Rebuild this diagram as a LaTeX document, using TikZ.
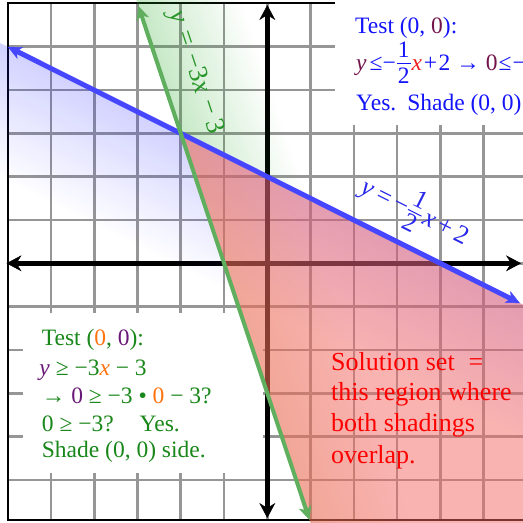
\documentclass[tikz,border=0pt]{standalone}
\usepackage{fontspec}
\setmainfont{Liberation Serif}
\usetikzlibrary{arrows.meta,fadings}
\definecolor{gridgray}{RGB}{150,150,150}
\definecolor{redfill}{RGB}{245,105,100}
\definecolor{fadeblue}{RGB}{30,30,255}
\definecolor{fadegreen}{RGB}{40,170,40}
\definecolor{fadeorange}{RGB}{215,120,50}
\definecolor{bluline}{RGB}{70,70,255}
\definecolor{grnline}{RGB}{95,175,95}
\definecolor{tblue}{RGB}{20,20,250}
\definecolor{tmaroon}{RGB}{115,20,75}
\definecolor{tred}{RGB}{240,30,30}
\definecolor{tgreen}{RGB}{25,135,25}
\definecolor{torange}{RGB}{255,115,15}
\definecolor{tpurple}{RGB}{105,25,120}
\definecolor{solred}{RGB}{255,0,0}
\definecolor{lblgreen}{RGB}{40,150,40}
\definecolor{lblblue}{RGB}{40,40,235}
\tikzfading[name=linefade, top color=transparent!0, bottom color=transparent!100]
\newcommand\stkfrac[2]{%
  \leavevmode\hbox{%
    \setbox0=\hbox{#1}\setbox2=\hbox{#2}%
    \dimen0=\wd0 \ifdim\wd2>\dimen0 \dimen0=\wd2 \fi
    \advance\dimen0 by 2pt%
    \rlap{\raise12.5pt\hbox to\dimen0{\hss\copy0\hss}}%
    \rlap{\raise6.3pt\hbox to\dimen0{\leaders\hrule height 1pt depth 0pt\hfill}}%
    \lower12.8pt\hbox to\dimen0{\hss\copy2\hss}}}
\begin{document}
\begin{tikzpicture}[x=43.25pt, y=43.3pt,
  txt/.style={anchor=base west, inner sep=0pt, font=\fontsize{23.5}{28}\selectfont},
  soltxt/.style={anchor=base west, inner sep=0pt, font=\fontsize{26}{31}\selectfont, text=solred},
  lbl/.style={inner sep=0pt},
  gridline/.style={draw=gridgray, line width=2.6pt},
  frameline/.style={draw=black, line width=2pt},
  axtip/.tip={Stealth[length=15pt,width=16pt,inset=5pt,line width=0.5pt]},
  lntip/.tip={Stealth[length=14pt,width=13pt,inset=4pt,line width=0.5pt]},
  axisline/.style={draw=black, line width=4.5pt, axtip-axtip},
  bluelinestyle/.style={draw=bluline, line width=5pt, lntip-lntip},
  greenlinestyle/.style={draw=grnline, line width=4pt, lntip-lntip},
  whitebox/.style={fill=white, draw=none}]
\useasboundingbox[fill=white] (-6.1803,-5.9746) rectangle (5.9121,6.0808);
% grid
\foreach \i in {-5,...,5} {
  \draw[gridline] (\i,6) -- (\i,-5.917);
  \draw[gridline] (-6,\i) -- (6.2,\i);
}
% frame
\draw[frameline] (6.2,6) -- (-6,6) -- (-6,-5.917) -- (6.2,-5.917);
% white text backgrounds
\fill[whitebox] (1.565,3.194) rectangle (6.3,6.3);
\fill[whitebox] (-5.649,-4.843) rectangle (-0.099,-1.148);
% axes
\coordinate (xl) at (-6.03,0);
\coordinate (xr) at (5.866,0);
\coordinate (yt) at (0,5.965);
\coordinate (yb) at (0,-5.882);
\draw[axisline] (xl) -- (xr);
\draw[axisline] (yb) -- (yt);
% blue fade below blue line
\begin{scope}
  \clip (-6.5,5.25) -- (6.5,-1.25) -- (6.5,-7) -- (-6.5,-7) -- cycle;
  \begin{scope}[transform canvas={shift={(0,2)}, rotate=-26.585}]
    \fill[fadeblue, fill opacity=0.2, path fading=linefade] (-10,0) rectangle (10,-2.8);
  \end{scope}
\end{scope}
% overlap region
\fill[redfill, fill opacity=0.5] (-2,3) -- (6.3,-1.15) -- (6.3,-6.2) -- (1.0667,-6.2) -- cycle;
% orange tint along green line inside the overlap
\begin{scope}
  \clip (-2,3) -- (6.3,-1.15) -- (6.3,-6.2) -- (1.0667,-6.2) -- cycle;
  \begin{scope}[transform canvas={shift={(-1,0)}, rotate=108.42}]
    \fill[fadeorange, fill opacity=0.2, path fading=linefade] (-10,0) rectangle (10,-2.2);
  \end{scope}
\end{scope}
% green fade right of green line, above blue line
\begin{scope}
  \clip (-3.1667,6.5) -- (-2,3) -- (6.5,-1.25) -- (6.5,6.5) -- cycle;
  \begin{scope}[transform canvas={shift={(-1,0)}, rotate=108.42}]
    \fill[fadegreen, fill opacity=0.26, path fading=linefade] (-10,0) rectangle (10,-2.3);
  \end{scope}
\end{scope}
% boundary lines
\coordinate (b1) at (-6,5);
\coordinate (b2) at (5.84,-0.92);
\coordinate (g1) at (-2.981,5.942);
\coordinate (g2) at (0.975,-5.925);
\draw[bluelinestyle] (b1) -- (b2);
\draw[greenlinestyle] (g1) -- (g2);
% line labels
\node[lbl, text=lblgreen, rotate=-71.58, font=\fontsize{27}{30}\selectfont] (glabel) at (-1.66,4.41)
  {{\itshape y}\kern9pt=\kern9pt−3{\itshape x}\kern8pt−\kern6pt3};
\node[lbl, text=lblblue, rotate=-26.585, font=\fontsize{26}{30}\selectfont] (blabel) at (3.43,1.20)
  {{\itshape y}\kern5pt=\kern5pt−\stkfrac{1}{2}\kern3pt{\itshape x}\kern5pt+\kern4pt2};
% top right test
\node[txt, text=tblue] (tr1) at (2.028,5.312) {Test (0, \textcolor{tmaroon}{0}):};
\node[txt, text=tblue] (tr2) at (2.051,4.453)
  {\textcolor{tmaroon}{\itshape y}\kern3pt≤−\kern1pt\stkfrac{1}{2}\kern1pt\textcolor{tred}{\itshape x}\kern2pt+\kern1.5pt2\kern6pt→\kern6pt\textcolor{tmaroon}{0}\kern1pt≤\kern1pt−};
\node[txt, text=tblue] (tr3) at (2.051,3.540) {Yes.\hspace{11pt}Shade (0, 0)};
% bottom left test
\node[txt, text=tgreen] (bl1) at (-5.216,-1.903) {Test (\textcolor{torange}{0}, \textcolor{tpurple}{0}):};
\node[txt, text=tgreen] (bl2) at (-5.272,-2.580) {\textcolor{tpurple}{\itshape y} ≥ −3\textcolor{torange}{\itshape x} − 3};
\node[txt, text=tgreen] (bl3) at (-5.216,-3.233) {→ \textcolor{tpurple}{0} ≥ −3 • \textcolor{torange}{0} − 3?};
\node[txt, text=tgreen] (bl4) at (-5.216,-3.873) {0 ≥ −3?\hspace{26pt}Yes.};
\node[txt, text=tgreen] (bl5) at (-5.216,-4.490) {Shade (0, 0) side.};
% solution text
\node[soltxt] (s1) at (1.473,-2.487) {Solution set\hspace{14pt}=};
\node[soltxt] (s2) at (1.473,-3.173) {this region where};
\node[soltxt] (s3) at (1.473,-3.889) {both shadings};
\node[soltxt] (s4) at (1.473,-4.612) {overlap.};
\end{tikzpicture}
\end{document}
